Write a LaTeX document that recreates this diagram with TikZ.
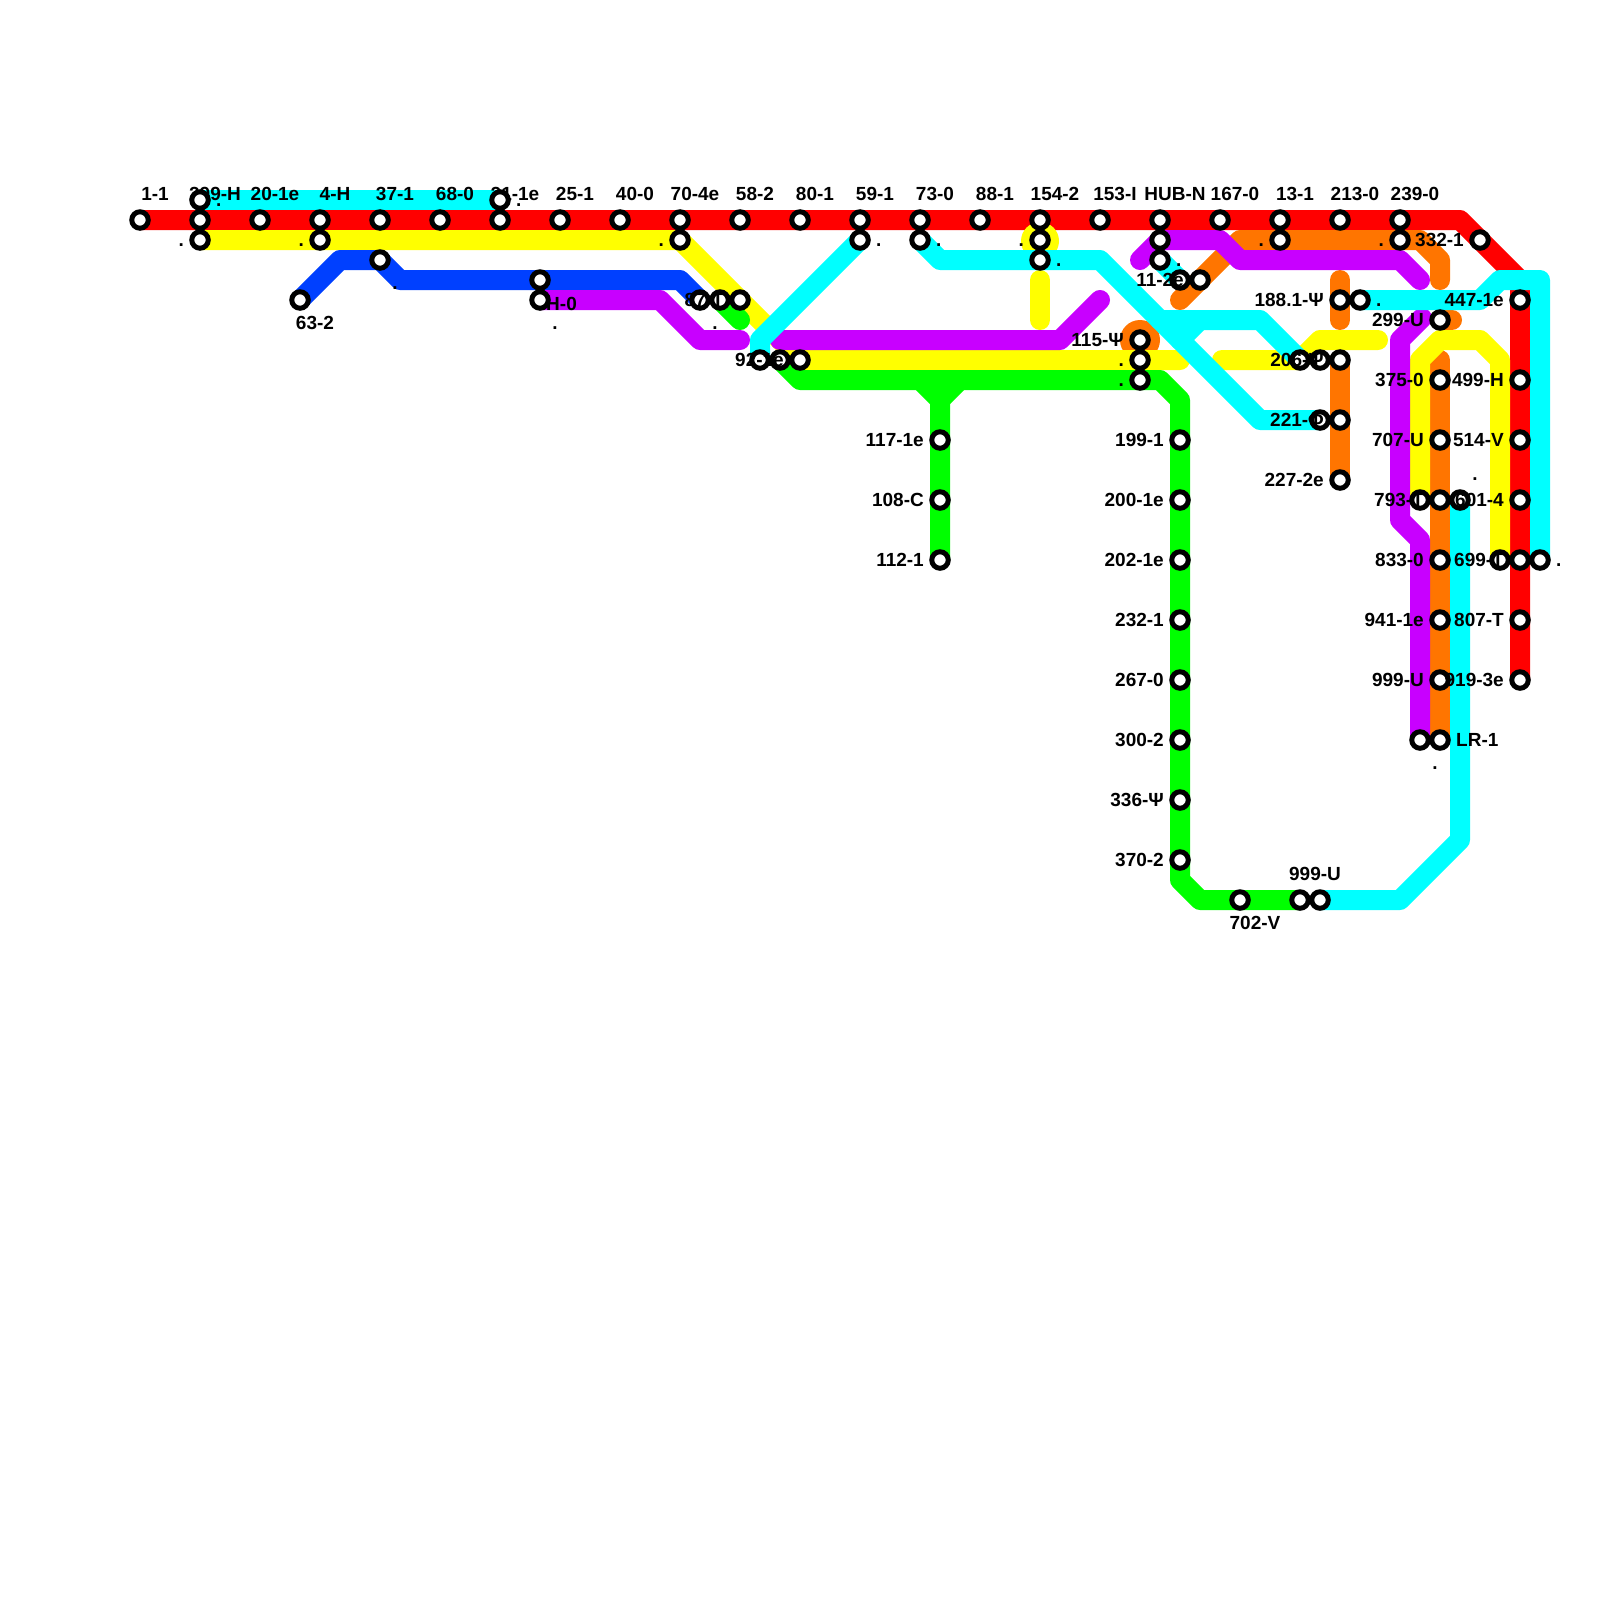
\documentclass[tikz,border=0pt]{standalone}
\usepackage{fontspec}
\setmainfont{Liberation Sans}
\usetikzlibrary{positioning}
\pgfdeclarelayer{lines}
\pgfsetlayers{lines,main}
\definecolor{lnRed}{RGB}{255,0,0}
\definecolor{lnYellow}{RGB}{255,255,0}
\definecolor{lnCyan}{RGB}{0,255,255}
\definecolor{lnBlue}{RGB}{0,64,255}
\definecolor{lnPurple}{RGB}{200,0,255}
\definecolor{lnOrange}{RGB}{255,117,0}
\definecolor{lnGreen}{RGB}{0,255,0}

\begin{document}
\begin{tikzpicture}[x=1pt,y=-1pt]
  \useasboundingbox (0,0) rectangle (1600,1600);
  \tikzstyle{Stop}=[circle,draw=black,fill=white,line width=5pt,inner sep=0pt,minimum size=16.5pt]
  \tikzstyle{Lbl}=[inner sep=0pt,font=\fontsize{19}{22}\selectfont\bfseries]
  \tikzstyle{LblL}=[Lbl,anchor=base east,xshift=-16pt,yshift=-6pt]
  \tikzstyle{LblR}=[Lbl,anchor=base west,xshift=16pt,yshift=-6pt]
  \tikzstyle{LblT}=[Lbl,anchor=base,xshift=15pt,yshift=20pt]
  \tikzstyle{LblB}=[Lbl,anchor=base,xshift=15pt,yshift=-29pt]
  \tikzstyle{Line}=[line width=20pt,line cap=round,line join=round]

  % red trunk
  \node[Stop] (r1) at (140,220) {}; \node[LblT] (r1l) at (r1.center) {1-1};
  \node[Stop] (r2) at (200,220) {}; \node[LblT] (r2l) at (r2.center) {299-H};
  \node[Stop] (r3) at (260,220) {}; \node[LblT] (r3l) at (r3.center) {20-1e};
  \node[Stop] (r4) at (320,220) {}; \node[LblT] (r4l) at (r4.center) {4-H};
  \node[Stop] (r5) at (380,220) {}; \node[LblT] (r5l) at (r5.center) {37-1};
  \node[Stop] (r6) at (440,220) {}; \node[LblT] (r6l) at (r6.center) {68-0};
  \node[Stop] (r7) at (500,220) {}; \node[LblT] (r7l) at (r7.center) {21-1e};
  \node[Stop] (r8) at (560,220) {}; \node[LblT] (r8l) at (r8.center) {25-1};
  \node[Stop] (r9) at (620,220) {}; \node[LblT] (r9l) at (r9.center) {40-0};
  \node[Stop] (r10) at (680,220) {}; \node[LblT] (r10l) at (r10.center) {70-4e};
  \node[Stop] (r11) at (740,220) {}; \node[LblT] (r11l) at (r11.center) {58-2};
  \node[Stop] (r12) at (800,220) {}; \node[LblT] (r12l) at (r12.center) {80-1};
  \node[Stop] (r13) at (860,220) {}; \node[LblT] (r13l) at (r13.center) {59-1};
  \node[Stop] (r14) at (920,220) {}; \node[LblT] (r14l) at (r14.center) {73-0};
  \node[Stop] (r15) at (980,220) {}; \node[LblT] (r15l) at (r15.center) {88-1};
  \node[Stop] (r16) at (1040,220) {}; \node[LblT] (r16l) at (r16.center) {154-2};
  \node[Stop] (r17) at (1100,220) {}; \node[LblT] (r17l) at (r17.center) {153-I};
  \node[Stop] (r18) at (1160,220) {}; \node[LblT] (r18l) at (r18.center) {HUB-N};
  \node[Stop] (r19) at (1220,220) {}; \node[LblT] (r19l) at (r19.center) {167-0};
  \node[Stop] (r20) at (1280,220) {}; \node[LblT] (r20l) at (r20.center) {13-1};
  \node[Stop] (r21) at (1340,220) {}; \node[LblT] (r21l) at (r21.center) {213-0};
  \node[Stop] (r22) at (1400,220) {}; \node[LblT] (r22l) at (r22.center) {239-0};
  \node[Stop] (r23) at (1480,240) {}; \node[LblL] (r23l) at (r23.center) {332-1};

  % cyan
  \node[Stop] (c1) at (200,200) {}; \node[LblR] (c1l) at (c1.center) {.};
  \node[Stop] (c2) at (500,200) {}; \node[LblR] (c2l) at (c2.center) {.};
  \node[Stop] (c3) at (860,240) {}; \node[LblR] (c3l) at (c3.center) {.};
  \node[Stop] (c4) at (920,240) {}; \node[LblR] (c4l) at (c4.center) {.};
  \node[Stop] (c5) at (1040,260) {}; \node[LblR] (c5l) at (c5.center) {.};
  \node[Stop] (c6) at (1160,260) {}; \node[LblR] (c6l) at (c6.center) {.};
  \node[Stop] (c7) at (760,360) {};
  \node[Stop] (c8) at (1300,360) {};
  \node[Stop] (c9) at (1320,420) {};
  \node[Stop] (c10) at (1360,300) {}; \node[LblR] (c10l) at (c10.center) {.};
  \node[Stop] (c11) at (1540,560) {}; \node[LblR] (c11l) at (c11.center) {.};
  \node[Stop] (c12) at (1460,500) {}; \node[LblT] (c12l) at (c12.center) {.};
  \node[Stop] (c13) at (1320,900) {};
  \node[Stop] (c14) at (1180,280) {};

  % blue
  \node[Stop] (b1) at (300,300) {}; \node[LblB] (b1l) at (b1.center) {63-2};
  \node[Stop] (b2) at (380,260) {}; \node[LblB] (b2l) at (b2.center) {.};
  \node[Stop] (b3) at (540,280) {}; \node[Lbl,anchor=base west,xshift=6pt,yshift=-30pt] (b3l) at (b3.center) {H-0};
  \node[Stop] (b4) at (700,300) {}; \node[LblB] (b4l) at (b4.center) {.};

  % purple
  \node[Stop] (p1) at (540,300) {}; \node[LblB] (p1l) at (p1.center) {.};
  \node[Stop] (p2) at (1160,240) {};
  \node[Stop] (p3) at (1420,740) {}; \node[LblB] (p3l) at (p3.center) {.};

  % green
  \node[Stop] (g1) at (720,300) {};
  \node[Stop] (g2) at (780,360) {};
  \node[Stop] (g3) at (1140,380) {}; \node[LblL] (g3l) at (g3.center) {.};
  \node[Stop] (g4) at (940,440) {}; \node[LblL] (g4l) at (g4.center) {117-1e};
  \node[Stop] (g5) at (940,500) {}; \node[LblL] (g5l) at (g5.center) {108-C};
  \node[Stop] (g6) at (940,560) {}; \node[LblL] (g6l) at (g6.center) {112-1};
  \node[Stop] (g7) at (1180,440) {}; \node[LblL] (g7l) at (g7.center) {199-1};
  \node[Stop] (g8) at (1180,500) {}; \node[LblL] (g8l) at (g8.center) {200-1e};
  \node[Stop] (g9) at (1180,560) {}; \node[LblL] (g9l) at (g9.center) {202-1e};
  \node[Stop] (g10) at (1180,620) {}; \node[LblL] (g10l) at (g10.center) {232-1};
  \node[Stop] (g11) at (1180,680) {}; \node[LblL] (g11l) at (g11.center) {267-0};
  \node[Stop] (g12) at (1180,740) {}; \node[LblL] (g12l) at (g12.center) {300-2};
  \node[Stop] (g13) at (1180,800) {}; \node[LblL] (g13l) at (g13.center) {336-Ψ};
  \node[Stop] (g14) at (1180,860) {}; \node[LblL] (g14l) at (g14.center) {370-2};
  \node[Stop] (g15) at (1240,900) {}; \node[LblB] (g15l) at (g15.center) {702-V};
  \node[Stop] (g16) at (1300,900) {}; \node[LblT] (g16l) at (g16.center) {999-U};

  % yellow
  \node[Stop] (y1) at (200,240) {}; \node[LblL] (y1l) at (y1.center) {.};
  \node[Stop] (y2) at (320,240) {}; \node[LblL] (y2l) at (y2.center) {.};
  \node[Stop] (y3) at (680,240) {}; \node[LblL] (y3l) at (y3.center) {.};
  \node[Stop] (y4) at (740,300) {}; \node[LblL] (y4l) at (y4.center) {87-T};
  \node[Stop] (y5) at (800,360) {}; \node[LblL] (y5l) at (y5.center) {92-1e};
  \node[Stop] (y6) at (1040,240) {}; \node[LblL] (y6l) at (y6.center) {.};
  \node[Stop] (y7) at (1140,360) {}; \node[LblL] (y7l) at (y7.center) {.};
  \node[Stop] (y8) at (1420,500) {};
  \node[Stop] (y9) at (1500,560) {};
  \node[Stop] (y10) at (1320,360) {};

  % orange
  \node[Stop] (o1) at (1200,280) {}; \node[LblL] (o1l) at (o1.center) {11-2e};
  \node[Stop] (o2) at (1280,240) {}; \node[LblL] (o2l) at (o2.center) {.};
  \node[Stop] (o3) at (1400,240) {}; \node[LblL] (o3l) at (o3.center) {.};
  \node[Stop] (o4) at (1340,300) {}; \node[LblL] (o4l) at (o4.center) {188.1-Ψ};
  \node[Stop] (o5) at (1340,360) {}; \node[LblL] (o5l) at (o5.center) {206-Ψ};
  \node[Stop] (o6) at (1340,420) {}; \node[LblL] (o6l) at (o6.center) {221-Φ};
  \node[Stop] (o7) at (1340,480) {}; \node[LblL] (o7l) at (o7.center) {227-2e};
  \node[Stop] (o8) at (1440,320) {}; \node[LblL] (o8l) at (o8.center) {299-U};
  \node[Stop] (o9) at (1440,380) {}; \node[LblL] (o9l) at (o9.center) {375-0};
  \node[Stop] (o10) at (1440,440) {}; \node[LblL] (o10l) at (o10.center) {707-U};
  \node[Stop] (o11) at (1440,500) {}; \node[LblL] (o11l) at (o11.center) {793-T};
  \node[Stop] (o12) at (1440,560) {}; \node[LblL] (o12l) at (o12.center) {833-0};
  \node[Stop] (o13) at (1440,620) {}; \node[LblL] (o13l) at (o13.center) {941-1e};
  \node[Stop] (o14) at (1440,680) {}; \node[LblL] (o14l) at (o14.center) {999-U};
  \node[Stop] (o15) at (1440,740) {}; \node[LblR] (o15l) at (o15.center) {LR-1};
  \node[Stop] (o16) at (1140,340) {}; \node[LblL] (o16l) at (o16.center) {115-Ψ};

  % red branch
  \node[Stop] (r24) at (1520,300) {}; \node[LblL] (r24l) at (r24.center) {447-1e};
  \node[Stop] (r25) at (1520,380) {}; \node[LblL] (r25l) at (r25.center) {499-H};
  \node[Stop] (r26) at (1520,440) {}; \node[LblL] (r26l) at (r26.center) {514-V};
  \node[Stop] (r27) at (1520,500) {}; \node[LblL] (r27l) at (r27.center) {601-4};
  \node[Stop] (r28) at (1520,560) {}; \node[LblL] (r28l) at (r28.center) {699-T};
  \node[Stop] (r29) at (1520,620) {}; \node[LblL] (r29l) at (r29.center) {807-T};
  \node[Stop] (r30) at (1520,680) {}; \node[LblL] (r30l) at (r30.center) {919-3e};

  \begin{pgfonlayer}{lines}
    \coordinate (redA) at (1460,220);
    \coordinate (redB) at (1520,280);
    \draw[Line,lnRed] (r1.center) -- (r22.center) -- (redA) -- (r23.center) -- (redB) -- (r30.center);

    \fill[lnOrange] (o16.center) circle (20);
    \coordinate (orA) at (1180,300);
    \coordinate (orB) at (1240,240);
    \coordinate (orC) at (1420,240);
    \coordinate (orD) at (1440,260);
    \coordinate (orE) at (1440,280);
    \coordinate (orF) at (1340,280);
    \coordinate (orG) at (1340,320);
    \coordinate (orH) at (1440,360);
    \coordinate (orI) at (1452,320);
    \draw[Line,lnOrange] (orA) -- (o1.center) -- (orB) -- (o2.center) -- (o3.center) -- (orC) -- (orD) -- (orE);
    \draw[Line,lnOrange] (orF) -- (o4.center) -- (orG);
    \draw[Line,lnOrange] (o5.center) -- (o7.center);
    \draw[Line,lnOrange] (orH) -- (o15.center);
    \draw[Line,lnOrange] (o8.center) -- (orI);

    \fill[lnYellow] ([yshift=-1pt]y6.center) circle (19);
    \coordinate (yeA) at (1180,360);
    \coordinate (yeB) at (1222,360);
    \coordinate (yeC) at (1320,340);
    \coordinate (yeD) at (1378,340);
    \coordinate (yeE) at (1420,360);
    \coordinate (yeF) at (1440,340);
    \coordinate (yeG) at (1480,340);
    \coordinate (yeH) at (1500,360);
    \coordinate (yeI) at (1040,280);
    \coordinate (yeJ) at (1040,320);
    \draw[Line,lnYellow] (y1.center) -- (y3.center) -- (y4.center) -- (y5.center) -- (yeA);
    \draw[Line,lnYellow] (yeB) -- (c8.center) -- (yeC) -- (yeD);
    \draw[Line,lnYellow] (y8.center) -- (yeE) -- (yeF) -- (yeG) -- (yeH) -- (y9.center);
    \draw[Line,lnYellow] (yeI) -- (yeJ);

    \coordinate (grA) at (740,320);
    \coordinate (grB) at (800,380);
    \coordinate (grC) at (1160,380);
    \coordinate (grD) at (1180,400);
    \coordinate (grE) at (1180,880);
    \coordinate (grF) at (1200,900);
    \coordinate (grG) at (920,380);
    \coordinate (grH) at (940,400);
    \coordinate (grI) at (960,380);
    \draw[Line,lnGreen] (g1.center) -- (grA);
    \draw[Line,lnGreen] (g2.center) -- (grB) -- (grC) -- (grD) -- (g14.center) -- (grE) -- (grF) -- (g16.center);
    \draw[Line,lnGreen] (grG) -- (grH) -- (g6.center);
    \draw[Line,lnGreen] (grI) -- (grH);

    \coordinate (blA) at (340,260);
    \coordinate (blB) at (400,280);
    \coordinate (blC) at (680,280);
    \draw[Line,lnBlue] (b1.center) -- (blA) -- (b2.center) -- (blB) -- (blC) -- (b4.center);

    \coordinate (puA) at (660,300);
    \coordinate (puB) at (700,340);
    \coordinate (puC) at (740,340);
    \coordinate (puD) at (780,340);
    \coordinate (puE) at (1060,340);
    \coordinate (puF) at (1100,300);
    \coordinate (puG) at (1140,260);
    \coordinate (puH) at (1220,240);
    \coordinate (puI) at (1240,260);
    \coordinate (puJ) at (1400,260);
    \coordinate (puK) at (1420,280);
    \coordinate (puL) at (1422,318);
    \coordinate (puM) at (1400,340);
    \coordinate (puN) at (1400,520);
    \coordinate (puO) at (1420,540);
    \draw[Line,lnPurple] (p1.center) -- (puA) -- (puB) -- (puC);
    \draw[Line,lnPurple] (puD) -- (puE) -- (puF);
    \draw[Line,lnPurple] (puG) -- (p2.center) -- (puH) -- (puI) -- (puJ) -- (puK);
    \draw[Line,lnPurple] (puL) -- (puM) -- (puN) -- (puO) -- (p3.center);

    \coordinate (cyA) at (760,340);
    \coordinate (cyB) at (940,260);
    \coordinate (cyC) at (1100,260);
    \coordinate (cyD) at (1260,420);
    \coordinate (cyE) at (1160,320);
    \coordinate (cyF) at (1260,320);
    \coordinate (cyG) at (1200,320);
    \coordinate (cyH) at (1180,340);
    \coordinate (cyI) at (1480,300);
    \coordinate (cyJ) at (1500,280);
    \coordinate (cyK) at (1540,280);
    \coordinate (cyL) at (1460,840);
    \coordinate (cyM) at (1400,900);
    \draw[Line,lnCyan] (c1.center) -- (c2.center);
    \draw[Line,lnCyan] (c3.center) -- (cyA) -- (c7.center);
    \draw[Line,lnCyan] (c4.center) -- (cyB) -- (c5.center) -- (cyC) -- (cyD) -- (c9.center);
    \draw[Line,lnCyan] (cyE) -- (cyF) -- (c8.center);
    \draw[Line,lnCyan] (cyG) -- (cyH);
    \draw[Line,lnCyan] (c6.center) -- (c14.center);
    \draw[Line,lnCyan] (c10.center) -- (cyI) -- (cyJ) -- (cyK) -- (c11.center);
    \draw[Line,lnCyan] (c12.center) -- (cyL) -- (cyM) -- (c13.center);
  \end{pgfonlayer}
\end{tikzpicture}
\end{document}
